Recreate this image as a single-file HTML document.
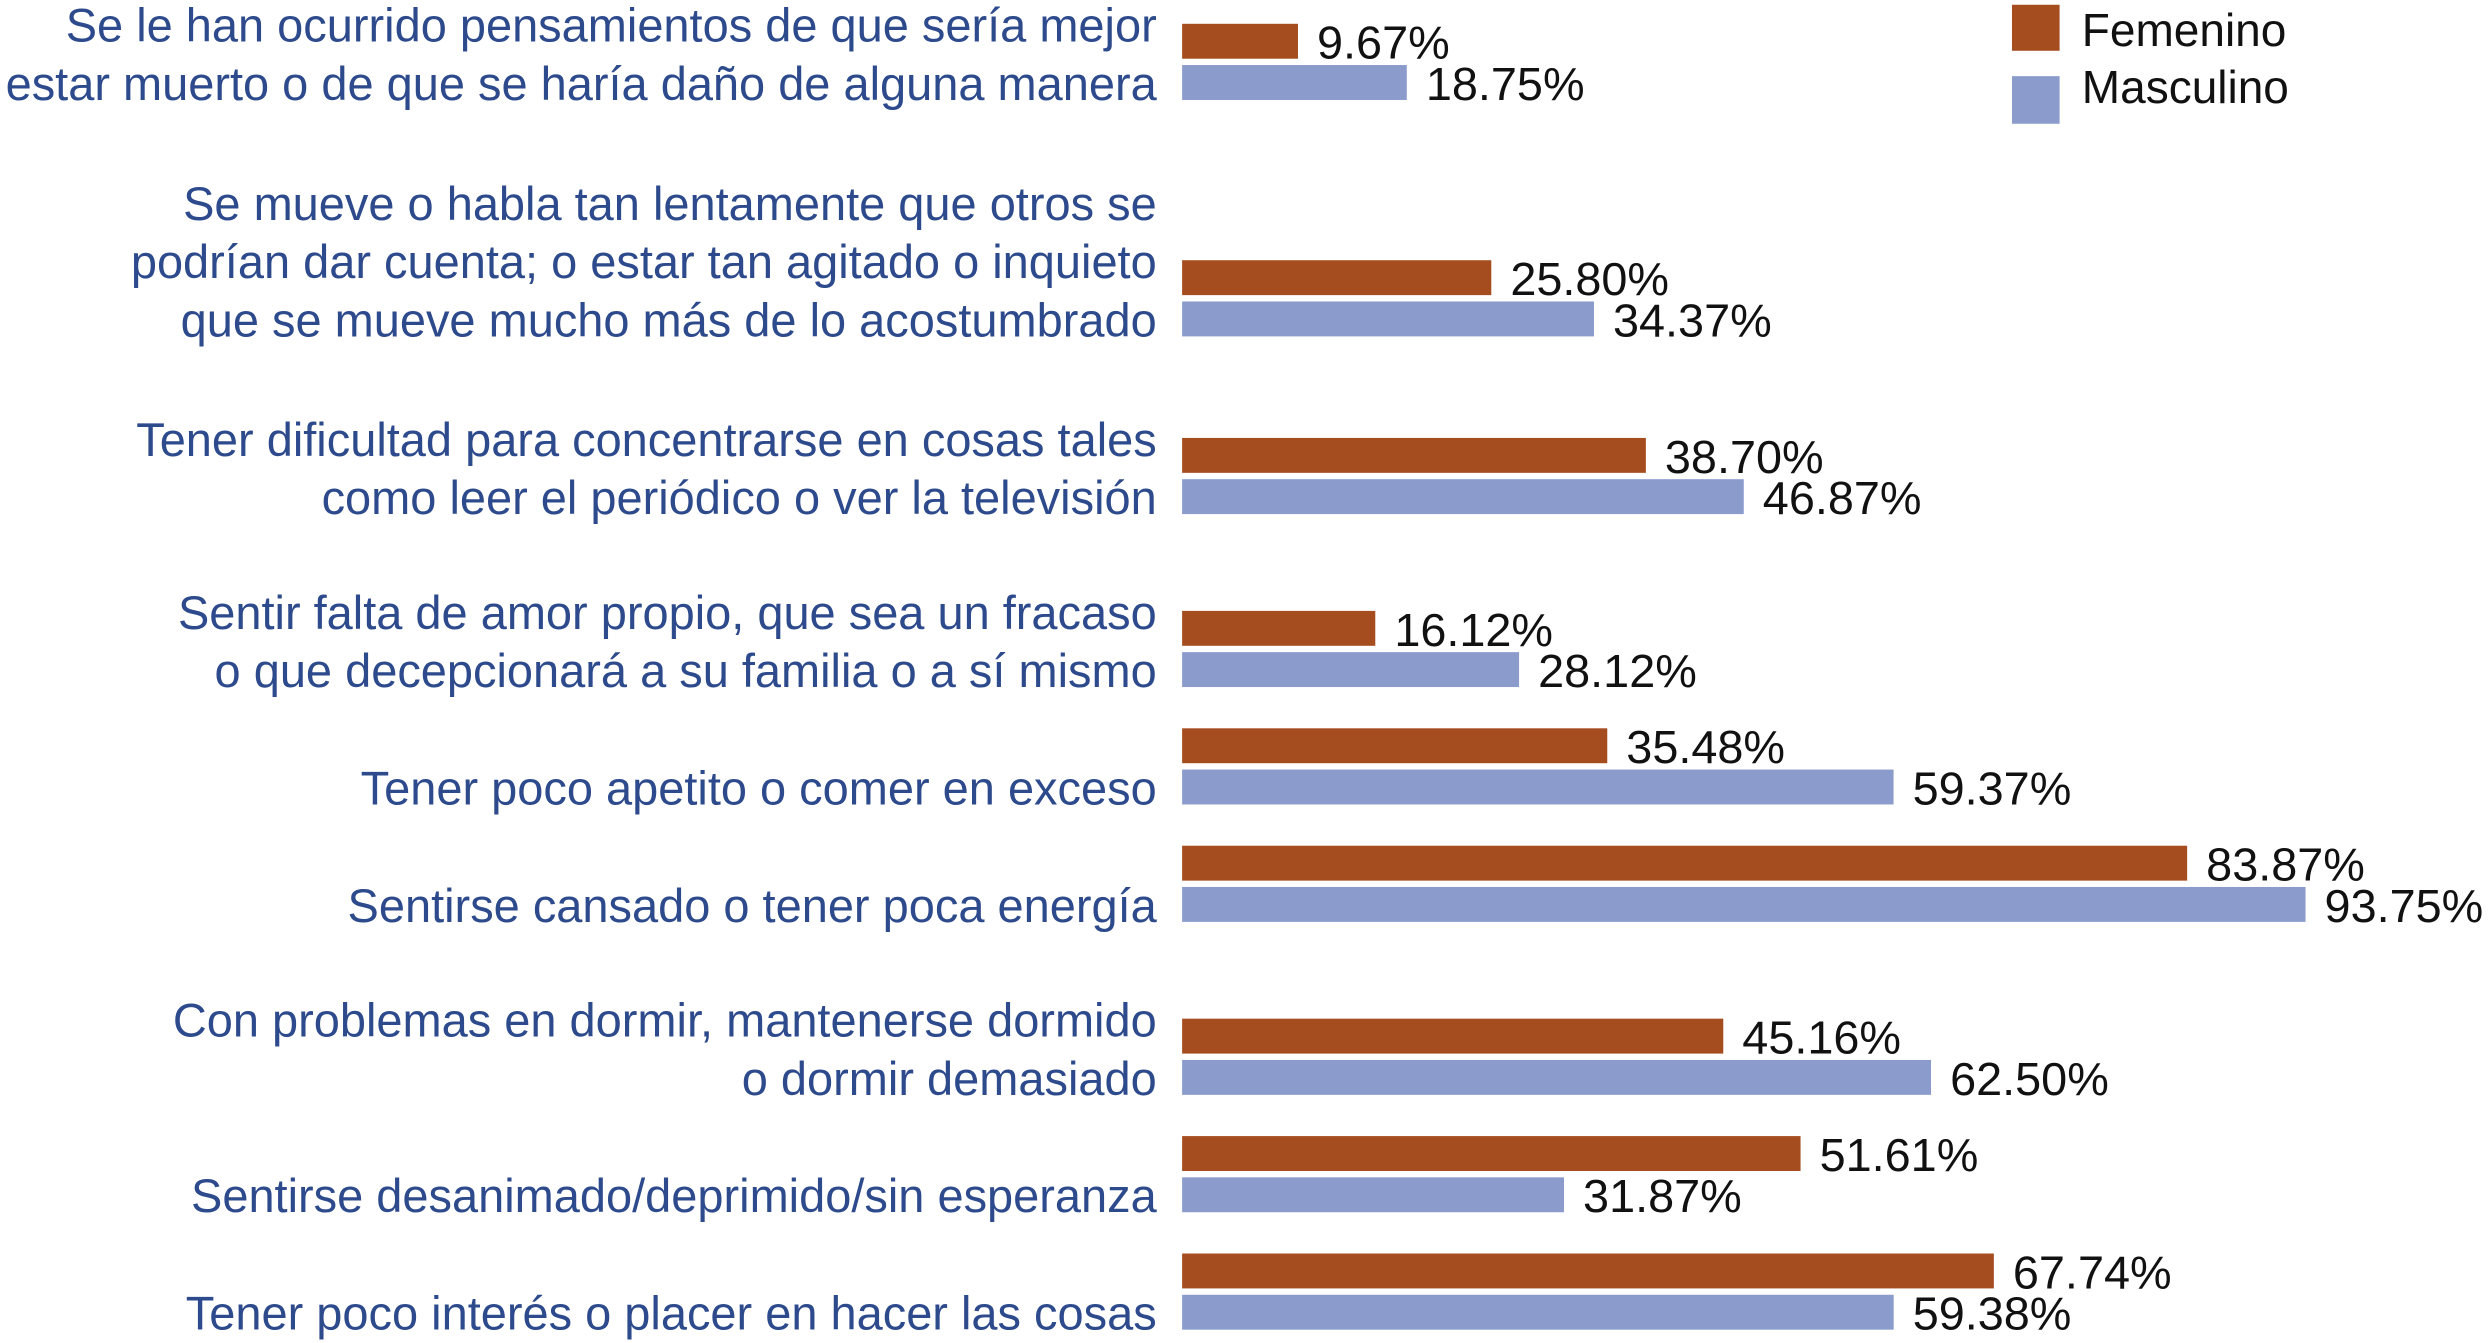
<!DOCTYPE html>
<html><head><meta charset="utf-8"><style>html,body{margin:0;padding:0;background:#fff}svg{display:block}</style></head>
<body>
<svg id="chart" width="2488" height="1343" viewBox="0 0 1568 846.4" preserveAspectRatio="none" xmlns="http://www.w3.org/2000/svg" font-family="'Liberation Sans', Arial, sans-serif">
<g id="bars"></g>
<g id="legend">
  <rect x="1268" y="3" width="30" height="29" fill="#a54d1f"/>
  <text x="1312" y="29" font-size="29" fill="#111">Femenino</text>
  <rect x="1268" y="48" width="30" height="30" fill="#8a9bcc"/>
  <text x="1312" y="65" font-size="29" fill="#111">Masculino</text>
</g>
</svg>
<script>
const categories = [
 ["Se le han ocurrido pensamientos de que sería mejor","estar muerto o de que se haría daño de alguna manera"],
 ["Se mueve o habla tan lentamente que otros se","podrían dar cuenta; o estar tan agitado o inquieto","que se mueve mucho más de lo acostumbrado"],
 ["Tener dificultad para concentrarse en cosas tales","como leer el periódico o ver la televisión"],
 ["Sentir falta de amor propio, que sea un fracaso","o que decepcionará a su familia o a sí mismo"],
 ["Tener poco apetito o comer en exceso"],
 ["Sentirse cansado o tener poca energía"],
 ["Con problemas en dormir, mantenerse dormido","o dormir demasiado"],
 ["Sentirse desanimado/deprimido/sin esperanza"],
 ["Tener poco interés o placer en hacer las cosas"]
];
const femenino = [9.67, 25.80, 38.70, 16.12, 35.48, 83.87, 45.16, 51.61, 67.74];
const masculino = [18.75, 34.37, 46.87, 28.12, 59.37, 93.75, 62.50, 31.87, 59.38];
const femLabels = ["9.67%","25.80%","38.70%","16.12%","35.48%","83.87%","45.16%","51.61%","67.74%"];
const mascLabels = ["18.75%","34.37%","46.87%","28.12%","59.37%","93.75%","62.50%","31.87%","59.38%"];

const rowTop = [15,164,276,385,459,533,642,716,790];
const x0 = 745, pxPer = 7.552, barH = 22, gap = 4, lineH = 36.7;
const xScale = v => x0 + v * pxPer;
const NS = "http://www.w3.org/2000/svg";
const g = document.getElementById("bars");
function mk(tag, attrs){const e=document.createElementNS(NS,tag);for(const k in attrs)e.setAttribute(k,attrs[k]);return e;}
categories.forEach((lines,i)=>{
  const t = rowTop[i];
  const series = [[femenino[i],femLabels[i],"#a54d1f","femenino",t],[masculino[i],mascLabels[i],"#8a9bcc","masculino",t+barH+gap]];
  series.forEach(s=>{
    const r = mk("rect",{x:x0,y:s[4],width:xScale(s[0])-x0,height:barH,fill:s[2]});
    
    
    g.appendChild(r);
    const tx = mk("text",{x:xScale(s[0])+12,y:s[4]+barH,"font-size":29.5,fill:"#111"});
    
    
    tx.textContent = s[1];
    g.appendChild(tx);
  });
  const lastBase = t + 2*barH + gap;
  lines.forEach((ln,j)=>{
    const tx = mk("text",{x:729,y:lastBase-(lines.length-1-j)*lineH,"font-size":29.6,fill:"#2d4a8c","text-anchor":"end"});
    
    
    tx.textContent = ln;
    g.appendChild(tx);
  });
});
</script>
</body></html>
